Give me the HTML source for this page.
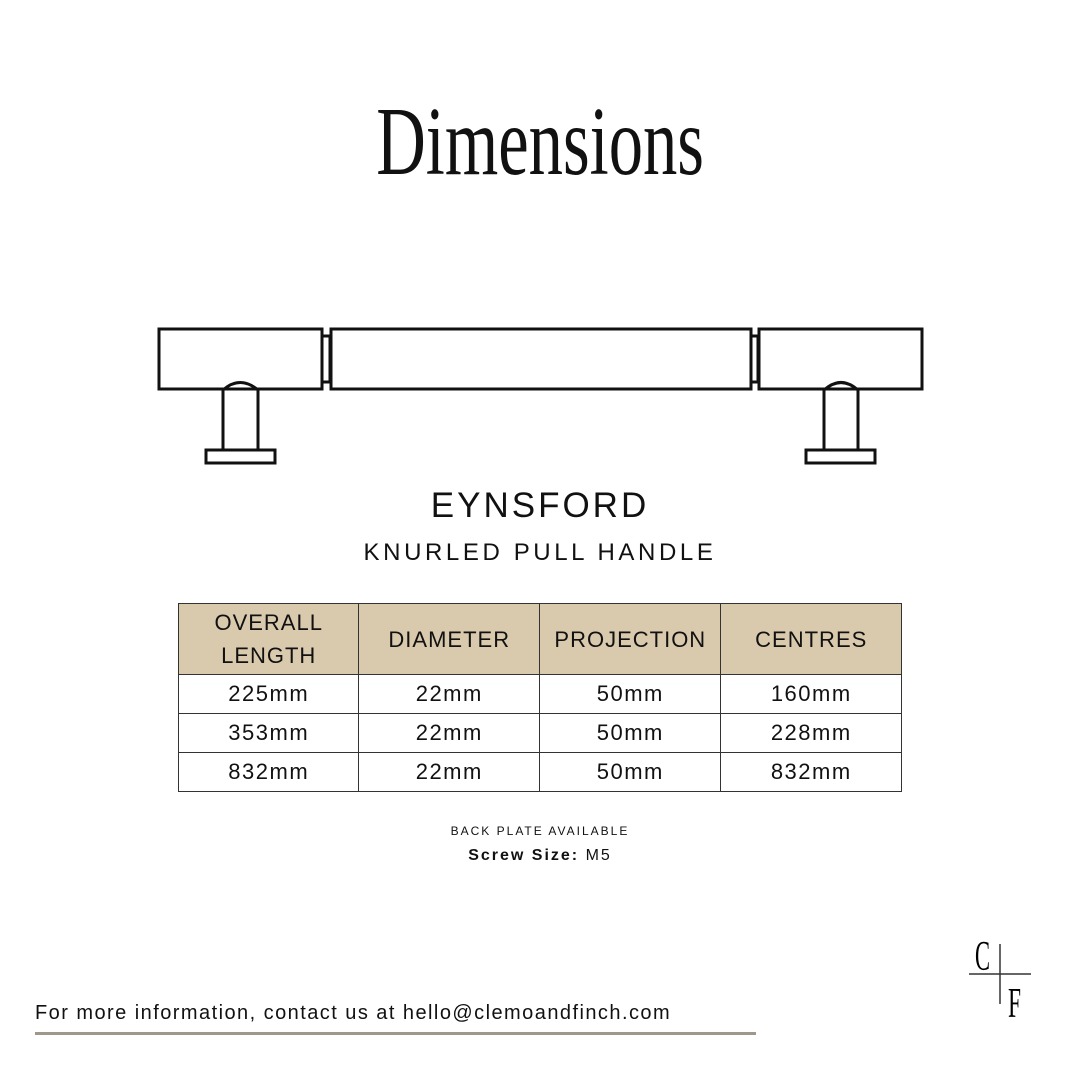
<!DOCTYPE html>
<html><head><style>
body{margin:0;width:1080px;height:1080px;background:#fff;position:relative;font-family:"Liberation Sans",sans-serif;color:#111;overflow:hidden}
.a{position:absolute;white-space:nowrap}
table{position:absolute;left:178px;top:603px;border-collapse:collapse;width:724px}
td{border:1px solid #333;text-align:center;font-size:22px;height:38px;padding:0;width:181px;letter-spacing:1.5px}
tr.h td{background:#d9c9ad;height:70px;line-height:33px;letter-spacing:1px}
</style></head><body>
<div class="a" style="left:0;width:1080px;top:86px;text-align:center;"><span style="display:inline-block;font-family:'Liberation Serif',serif;font-size:98px;transform:scaleX(0.7);transform-origin:center;">Dimensions</span></div>
<svg class="a" style="left:0;top:0" width="1080" height="1080">
<g fill="none" stroke="#111" stroke-width="3">
<rect x="159" y="329" width="163" height="60"/>
<rect x="322" y="336" width="8" height="46"/>
<rect x="331" y="329" width="420" height="60"/>
<rect x="751" y="336" width="7" height="46"/>
<rect x="759" y="329" width="163" height="60"/>
<path d="M223 450 V390 Q240 375 258 390 V450"/>
<rect x="206" y="450" width="69" height="13"/>
<path d="M824 450 V390 Q841 375 858 390 V450"/>
<rect x="806" y="450" width="69" height="13"/>
</g>
<g stroke="#333" stroke-width="1.5"><line x1="969" y1="974" x2="1031" y2="974"/><line x1="1000" y1="944" x2="1000" y2="1004"/></g>
<text x="975" y="970" font-family="Liberation Serif" font-size="42" textLength="15" lengthAdjust="spacingAndGlyphs">C</text>
<text x="1008" y="1017" font-family="Liberation Serif" font-size="42" textLength="13" lengthAdjust="spacingAndGlyphs">F</text>
</svg>
<div class="a" style="left:0;width:1080px;top:486px;text-align:center;font-size:35px;letter-spacing:3px">EYNSFORD</div>
<div class="a" style="left:0;width:1080px;top:539px;text-align:center;font-size:24px;letter-spacing:3.6px">KNURLED PULL HANDLE</div>
<table>
<tr class="h"><td>OVERALL<br>LENGTH</td><td>DIAMETER</td><td>PROJECTION</td><td>CENTRES</td></tr>
<tr><td>225mm</td><td>22mm</td><td>50mm</td><td>160mm</td></tr>
<tr><td>353mm</td><td>22mm</td><td>50mm</td><td>228mm</td></tr>
<tr><td>832mm</td><td>22mm</td><td>50mm</td><td>832mm</td></tr>
</table>
<div class="a" style="left:0;width:1080px;top:824px;text-align:center;font-size:12px;letter-spacing:2px">BACK PLATE AVAILABLE</div>
<div class="a" style="left:0;width:1080px;top:847px;text-align:center;font-size:16px;letter-spacing:2px"><b>Screw Size:</b> M5</div>
<div class="a" style="left:35px;top:1002px;font-size:20px;letter-spacing:1.45px">For more information, contact us at hello@clemoandfinch.com</div>
<div class="a" style="left:35px;top:1032px;width:721px;height:3px;background:#9e978a"></div>
</body></html>
